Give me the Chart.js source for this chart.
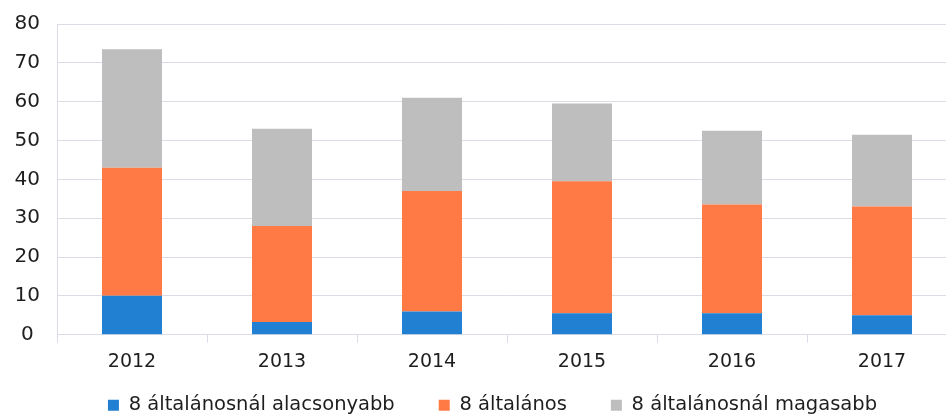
<!DOCTYPE html>
<html>
<head>
<meta charset="utf-8">
<script src="https://cdn.jsdelivr.net/npm/chart.js@4.4.1/dist/chart.umd.min.js"></script>
<style>
  html, body { margin: 0; padding: 0; background: #fff; overflow: hidden; }
  #wrap { width: 960px; height: 418px; position: relative; }
</style>
</head>
<body>
<div id="wrap"><canvas id="canvas"></canvas></div>
<script>
// adatok ..................
const years = ["2012", "2013", "2014", "2015", "2016", "2017"];
const alacsonyabb = [10, 3.3, 6, 5.5, 5.5, 5];
const altalanos = [33, 24.7, 31, 34, 28, 28];
const magasabb = [30.5, 25, 24, 20, 19, 18.5];
const seriesNames = ["8 általánosnál alacsonyabb", "8 általános", "8 általánosnál magasabb"];
const yTicks = [0, 10, 20, 30, 40, 50, 60, 70, 80];

const gridColor = "#dcdce6";
const textColor = "#1e1e1e";

// jelmagyarázat eltolása a helyére
const legendShift = {
    id: "legendShift",
    afterLayout(chart) {
        const lg = chart.legend;
        lg.left += 14;
        lg.right += 14;
        lg.top -= 30;
        lg.bottom -= 30;
    },
};

const source = {
    labels: years,
    datasets: [
        { label: seriesNames[0], data: alacsonyabb, backgroundColor: "#2280d3" },
        { label: seriesNames[1], data: altalanos, backgroundColor: "#ff7a45" },
        { label: seriesNames[2], data: magasabb, backgroundColor: "#bebebe" },
    ],
};

const config = {
    type: "bar",
    data: source,
    plugins: [legendShift],
    options: {
        responsive: true,
        maintainAspectRatio: false,
        animation: false,
        datasets: { bar: { categoryPercentage: 1, barPercentage: 0.4 } },
        layout: { padding: { top: 10, right: 3, left: 0, bottom: -37 } },
        plugins: {
            tooltip: { enabled: false },
            legend: {
                position: "bottom",
                labels: {
                    boxWidth: 11,
                    boxHeight: 11,
                    padding: 44,
                    color: textColor,
                    font: { family: "DejaVu Sans", size: 19.5 },
                },
            },
        },
        scales: {
            x: {
                stacked: true,
                grid: { drawOnChartArea: false, drawTicks: true, tickLength: 8, color: gridColor },
                border: { color: gridColor },
                ticks: { padding: 8, color: textColor, font: { family: "DejaVu Sans", size: 19 } },
            },
            y: {
                stacked: true,
                min: 0,
                max: 80,
                afterFit: (scale) => { scale.width = 57; },
                afterBuildTicks: (scale) => { scale.ticks = yTicks.map((v) => ({ value: v })); },
                grid: { drawTicks: false, color: gridColor },
                border: { color: gridColor },
                ticks: { crossAlign: "center", padding: 17, color: textColor, font: { family: "DejaVu Sans", size: 20, lineHeight: 0.7 } },
            },
        },
    },
};

const canvas = document.getElementById("canvas").getContext("2d");
const chart = new Chart(canvas, config);
</script>
</body>
</html>
